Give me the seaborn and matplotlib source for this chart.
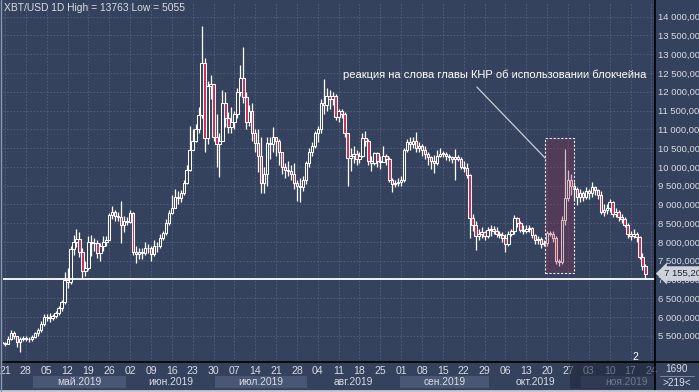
import numpy as np
import pandas as pd
import matplotlib
matplotlib.use("Agg")
from matplotlib import pyplot as plt
import matplotlib.patches as mpatches
import seaborn as sns

# XBT/USD 1D, 20.04.2019 - 22.11.2019 (open = previous close)
first_open = 5320
close_apr = [5300, 5290, 5400, 5580, 5480, 5330, 5400, 5440, 5420, 5400, 5470]
high_apr = [5340, 5340, 5480, 5640, 5620, 5500, 5460, 5500, 5480, 5460, 5520]
low_apr = [5260, 5230, 5270, 5380, 5420, 5200, 5055, 5360, 5350, 5330, 5370]

close_may = [5560, 5640, 5800, 5990, 6000, 5980, 6030, 6100, 6230, 6400, 6980, 6920, 7800, 8000, 8080, 7720,
             7220, 7300, 8000, 7960, 7980, 7700, 7880, 7990, 8050, 8720, 8790, 8700, 8650, 8460, 8560]
high_may = [5600, 5700, 5880, 6080, 6080, 6100, 6090, 6160, 6300, 6460, 7200, 7300, 7900, 8180, 8340, 8250,
            7850, 7500, 8150, 8180, 8100, 8050, 7980, 8160, 8150, 8760, 8950, 8860, 8800, 9100, 8700]
low_may = [5440, 5500, 5600, 5760, 5880, 5860, 5920, 5960, 6060, 6160, 6350, 6780, 6880, 7650, 7860, 7600,
           7000, 7100, 7250, 7620, 7760, 7580, 7480, 7760, 7900, 8040, 8600, 8560, 8560, 7980, 8260]

close_jun = [8540, 8770, 7720, 7680, 7730, 7700, 7850, 7830, 7680, 7900, 7880, 8100, 8230, 8500, 8770,
             8900, 9200, 9160, 9300, 9570, 9920, 10450, 10700, 11000, 11380, 12770, 10770, 12150, 12200, 10800]
high_jun = [8650, 8850, 8800, 7900, 7850, 7850, 8000, 7950, 7900, 8050, 8000, 8200, 8300, 8600, 8850,
            9250, 9400, 9350, 9380, 9650, 10050, 11100, 11000, 11150, 11600, 13763, 12900, 12300, 12450, 12200]
low_jun = [8450, 8500, 7650, 7430, 7550, 7550, 7650, 7700, 7500, 7620, 7720, 7830, 8050, 8180, 8450,
           8750, 8900, 9000, 9050, 9250, 9550, 9900, 10500, 10650, 10900, 11300, 10400, 10600, 11800, 10700]

close_jul = [10600, 10700, 11700, 11300, 11060, 11200, 11400, 12000, 12380, 11860, 11200, 11500, 10900, 10630,
             10300, 9570, 9800, 10630, 10600, 10800, 10700, 10400, 10000, 9920, 9900, 9800, 9570, 9500, 9450,
             9650, 10100]
high_jul = [11400, 10900, 12050, 12000, 11450, 11600, 11500, 12100, 12700, 13190, 12000, 11650, 11700, 11000,
            11000, 10800, 10000, 10800, 10800, 11060, 10800, 10750, 10400, 10100, 10150, 10050, 10100, 9650,
            9700, 9750, 10150]
low_jul = [10000, 9730, 10700, 11050, 10900, 10900, 11000, 11300, 11900, 11700, 11000, 11100, 10700, 10400,
           9850, 9300, 9300, 9500, 10200, 10400, 10300, 10050, 9800, 9700, 9750, 9650, 9400, 9100, 9060,
           9350, 9550]

close_aug = [10400, 10550, 10900, 11000, 11700, 11650, 11900, 11800, 11900, 11330, 11500, 11400, 10900, 10230,
             10300, 10350, 10200, 10300, 10770, 10700, 10150, 10100, 10370, 10150, 10130, 10300, 10200, 9650,
             9550, 9580, 9600]
high_aug = [10500, 10650, 10950, 11100, 11800, 12330, 12100, 12050, 12000, 11950, 11550, 11550, 11450, 10900,
            10500, 10550, 10450, 10400, 10900, 10950, 10750, 10300, 10400, 10400, 10300, 10550, 10350, 10250,
            9700, 9650, 9700]
low_aug = [10000, 10300, 10500, 10650, 10900, 11400, 11500, 11550, 11650, 11250, 11200, 11300, 10800, 9500,
           9900, 10100, 10050, 10100, 10250, 10550, 10050, 9900, 10050, 10000, 9950, 10150, 10050, 9600,
           9320, 9450, 9500]

close_sep = [9650, 10450, 10650, 10600, 10700, 10500, 10550, 10450, 10350, 10250, 10150, 10100, 10300, 10350,
             10350, 10300, 10250, 10200, 10260, 10220, 10000, 9980, 9780, 8630, 8450, 8150, 8200, 8250, 8150, 8320]
high_sep = [9750, 10500, 10750, 10800, 10800, 10930, 10650, 10600, 10550, 10400, 10280, 10320, 10450, 10500,
            10420, 10400, 10350, 10300, 10470, 10320, 10260, 10150, 10100, 9800, 8750, 8550, 8350, 8400, 8300, 8400]
low_sep = [9500, 9600, 10400, 10450, 10500, 10400, 10400, 10300, 10200, 10050, 9950, 9830, 10050, 10250,
           10250, 10180, 10150, 10100, 9650, 10150, 9950, 9850, 9700, 8100, 8300, 7780, 8050, 8100, 8050, 8100]

close_oct = [8350, 8300, 8200, 8180, 8100, 7950, 8200, 8280, 8630, 8500, 8320, 8300, 8350, 8380, 8180, 8050,
             8080, 7950, 7980, 8240, 8200, 8100, 7480, 7470, 8580, 9160, 9640, 9500, 9400, 9200, 9300]
high_oct = [8450, 8420, 8400, 8300, 8250, 8200, 8300, 8350, 8710, 8650, 8550, 8450, 8450, 8450, 8400, 8200,
            8150, 8120, 8050, 8300, 8300, 8280, 8150, 7550, 8700, 10475, 9920, 9800, 9600, 9450, 9400]
low_oct = [8150, 8200, 8120, 8100, 8000, 7730, 7900, 8150, 8200, 8400, 8250, 8200, 8230, 8250, 8100, 7950,
           7950, 7850, 7900, 7900, 8150, 8000, 7400, 7360, 7420, 8450, 9100, 9250, 9100, 8980, 9050]

close_nov = [9200, 9350, 9300, 9460, 9380, 9250, 8800, 8850, 8900, 9050, 8750, 8800, 8650, 8600, 8450, 8200,
             8150, 8200, 8120, 7600, 7350, 7155.2]
high_nov = [9350, 9450, 9420, 9590, 9500, 9420, 9350, 9000, 9000, 9150, 9100, 8900, 8850, 8750, 8650, 8500,
            8300, 8350, 8250, 8150, 7700, 7400]
low_nov = [9100, 9150, 9150, 9200, 9250, 9150, 8750, 8700, 8750, 8800, 8650, 8650, 8550, 8500, 8400, 8100,
           8050, 8100, 8000, 7550, 7250, 7000]

months = ["май.2019", "июн.2019", "июл.2019", "авг.2019", "сен.2019", "окт.2019", "ноя.2019"]
level_line = 7000
last_price = 7155.2
note = "реакция на слова главы КНР об использовании блокчейна"

closes = close_apr + close_may + close_jun + close_jul + close_aug + close_sep + close_oct + close_nov
highs = high_apr + high_may + high_jun + high_jul + high_aug + high_sep + high_oct + high_nov
lows = low_apr + low_may + low_jun + low_jul + low_aug + low_sep + low_oct + low_nov

dates = pd.date_range("2019-04-20", periods=len(closes), freq="D")
start = pd.Timestamp("2019-04-21")
df = pd.DataFrame({"date": dates, "close": closes, "high": highs, "low": lows})
df["open"] = [first_open] + closes[:-1]
df["x"] = (df["date"] - start).dt.days

BG = "#35425e"
GRID = "#56627f"
TXT = "#d8dce4"
RED = "#d02c52"

sns.set_theme(style="dark", rc={"axes.facecolor": BG, "figure.facecolor": BG})
plt.rcParams["font.family"] = ["Liberation Sans", "DejaVu Sans"]

W, H = 699, 392
fig = plt.figure(figsize=(W / 100, H / 100), dpi=100)
ax = fig.add_axes([3 / W, 30 / H, 652 / W, 360 / H])
axb = fig.add_axes([3 / W, 3 / H, 652 / W, 27 / H], sharex=ax)

xmin, xmax = -0.67, 218.2
ax.set_xlim(xmin, xmax)
ax.set_ylim(4799, 14392)

weeks = pd.date_range("2019-04-21", "2019-11-24", freq="7D")
wx = (weeks - start).days
for v in wx:
    ax.axvline(v, color=GRID, lw=0.6, ls=(0, (2, 2)), zorder=0)
yt = np.arange(5500, 14001, 500)
for v in yt:
    ax.axhline(v, color=GRID, lw=0.6, ls=(0, (2, 2)), zorder=0)

# candles
up = df["close"] >= df["open"]
ax.vlines(df["x"], df["low"], df["high"], color="white", lw=0.9, zorder=2)
body_lo = np.minimum(df["open"], df["close"])
body_h = np.maximum((df["close"] - df["open"]).abs(), 15)
ax.bar(df["x"], body_h, bottom=body_lo, width=0.82,
       color=np.where(up, BG, RED), edgecolor="white", linewidth=0.75, zorder=3)

ax.axhline(level_line, color="white", lw=1.3, zorder=4)

# highlighted area
rect = mpatches.Rectangle((181.3, 7172), 9.7, 3596, facecolor="#8a3050", alpha=0.32,
                          edgecolor="none", zorder=5)
ax.add_patch(rect)
ax.add_patch(mpatches.Rectangle((181.3, 7172), 9.7, 3596, fill=False, edgecolor="#e8e8ee",
                                lw=0.8, ls=(0, (2, 1.5)), zorder=6))
ax.plot([158.4, 181.3], [12127, 10236], color="#c8ccd6", lw=0.9, zorder=6)
ax.text(164.5, 12447, note, color="white", fontsize=8, ha="center", va="center", zorder=7)

ax.yaxis.tick_right()
ax.set_yticks(yt)
ax.set_yticklabels([f"{int(v):,}".replace(",", " ") + ",000" for v in yt])
ax.tick_params(axis="y", length=0, pad=2.2, labelsize=6.8, labelcolor=TXT)
ax.tick_params(axis="x", length=0, labelbottom=False)
for s in ax.spines.values():
    s.set_visible(False)
ax.grid(False)

# bottom time scale
axb.set_ylim(0, 1)
axb.set_yticks([])
axb.tick_params(axis="x", length=0, labelbottom=False)
for s in axb.spines.values():
    s.set_visible(False)
month_starts = pd.date_range("2019-04-01", "2019-12-01", freq="MS")
for i in range(len(month_starts) - 1):
    a = (month_starts[i] - start).days - 0.5
    b = (month_starts[i + 1] - start).days - 0.5
    if i % 2 == 1:
        axb.axvspan(a, b, ymin=0.04, ymax=0.48, color="#4a5774", lw=0, zorder=1)
    if i >= 1:
        axb.text((a + b) / 2, 0.26, months[i - 1], color=TXT, fontsize=7.4, ha="center", va="center", zorder=3)
for d, v in zip(weeks, wx):
    axb.text(v, 0.68, d.strftime("%d"), color=TXT, fontsize=7.6, ha="center", va="center", zorder=3)
axb.axvspan(189.6, xmax, color="#1c2538", alpha=0.55, lw=0, zorder=5)
axb.text(211.5, 1.2, "2", color="white", fontsize=7.5, ha="center", va="center", zorder=6, clip_on=False)

# frame lines and right panel
fig.add_artist(plt.Line2D([655 / W, 655 / W], [0, 1], color="black", lw=1.2))
fig.add_artist(plt.Line2D([3 / W, 1], [30 / H, 30 / H], color="black", lw=1.2))
fig.add_artist(plt.Line2D([0, 1], [1.5 / H, 1.5 / H], color="#c4c8d0", lw=2))
fig.add_artist(plt.Line2D([0.7 / W, 0.7 / W], [0, 1], color="#8a98b4", lw=1))
fig.add_artist(plt.Line2D([660 / W, 694 / W], [16 / H, 16 / H], color="#8a93a6", lw=0.6))
fig.text(677 / W, 22.5 / H, "1690", color=TXT, fontsize=7.2, ha="center", va="center")
fig.text(677 / W, 9.5 / H, ">219<", color=TXT, fontsize=7.2, ha="center", va="center")
fig.text(4 / W, 1 - 8 / H, "XBT/USD 1D High = 13763 Low = 5055", color=TXT, fontsize=7.4,
         ha="left", va="center")
ty = (last_price - 4799) / (14392 - 4799) * 360 + 30
fig.text(664 / W, ty / H, f"{last_price:,.2f}".replace(",", " ").replace(".", ","),
         color="#1e2533", fontsize=6.8, ha="left", va="center",
         bbox=dict(boxstyle="larrow,pad=0.3", fc="#cdd1d9", ec="none"))

plt.savefig("out.png", dpi=100)
